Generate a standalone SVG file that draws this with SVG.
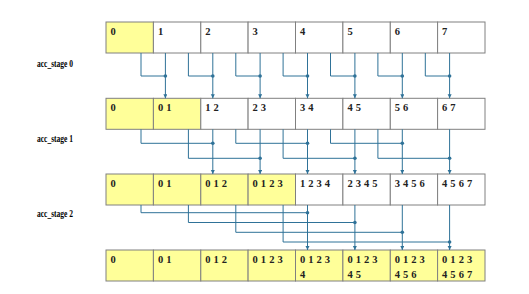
<svg xmlns="http://www.w3.org/2000/svg" width="529" height="294" viewBox="0 0 529 294">
<defs>
<style>
.c{fill:#ffffff;stroke:#808080;stroke-width:1}
.y{fill:#ffff99;stroke:#808080;stroke-width:1}
.t{font-family:"Liberation Serif",serif;font-weight:bold;font-size:10.5px;letter-spacing:0.2px;fill:#222}
.lb{font-family:"Liberation Serif",serif;font-weight:bold;font-size:9.5px;fill:#000}
.w{fill:none;stroke:#2f7298;stroke-width:1}
.d{fill:#2f7298}
</style>
<marker id="ah" markerUnits="userSpaceOnUse" markerWidth="5" markerHeight="5" refX="4" refY="2" orient="auto">
<path d="M0,0 L4,2 L0,4 z" fill="#2f7298"/>
</marker>
</defs>
<rect width="529" height="294" fill="#ffffff"/>

<g id="labels">
<text class="lb" x="37" y="67" textLength="36" lengthAdjust="spacingAndGlyphs">acc_stage 0</text>
<text class="lb" x="37" y="142" textLength="36" lengthAdjust="spacingAndGlyphs">acc_stage 1</text>
<text class="lb" x="37" y="217" textLength="36" lengthAdjust="spacingAndGlyphs">acc_stage 2</text>
</g>

<!-- Row 1 -->
<g id="r1c0"><rect class="y" x="106" y="22" width="47.4" height="31"/><text class="t" x="110.5" y="34.8">0</text></g>
<g id="r1c1"><rect class="c" x="153.4" y="22" width="47.4" height="31"/><text class="t" x="157.9" y="34.8">1</text></g>
<g id="r1c2"><rect class="c" x="200.8" y="22" width="47.3" height="31"/><text class="t" x="205.3" y="34.8">2</text></g>
<g id="r1c3"><rect class="c" x="248.1" y="22" width="47.4" height="31"/><text class="t" x="252.6" y="34.8">3</text></g>
<g id="r1c4"><rect class="c" x="295.5" y="22" width="47.4" height="31"/><text class="t" x="300" y="34.8">4</text></g>
<g id="r1c5"><rect class="c" x="342.9" y="22" width="47.4" height="31"/><text class="t" x="347.4" y="34.8">5</text></g>
<g id="r1c6"><rect class="c" x="390.3" y="22" width="47.3" height="31"/><text class="t" x="394.8" y="34.8">6</text></g>
<g id="r1c7"><rect class="c" x="437.6" y="22" width="47.4" height="31"/><text class="t" x="442.1" y="34.8">7</text></g>

<!-- Row 2 -->
<g id="r2c0"><rect class="y" x="106" y="98.3" width="47.4" height="31"/><text class="t" x="110.5" y="111">0</text></g>
<g id="r2c1"><rect class="y" x="153.4" y="98.3" width="47.4" height="31"/><text class="t" x="157.9" y="111">0 1</text></g>
<g id="r2c2"><rect class="c" x="200.8" y="98.3" width="47.3" height="31"/><text class="t" x="205.3" y="111">1 2</text></g>
<g id="r2c3"><rect class="c" x="248.1" y="98.3" width="47.4" height="31"/><text class="t" x="252.6" y="111">2 3</text></g>
<g id="r2c4"><rect class="c" x="295.5" y="98.3" width="47.4" height="31"/><text class="t" x="300" y="111">3 4</text></g>
<g id="r2c5"><rect class="c" x="342.9" y="98.3" width="47.4" height="31"/><text class="t" x="347.4" y="111">4 5</text></g>
<g id="r2c6"><rect class="c" x="390.3" y="98.3" width="47.3" height="31"/><text class="t" x="394.8" y="111">5 6</text></g>
<g id="r2c7"><rect class="c" x="437.6" y="98.3" width="47.4" height="31"/><text class="t" x="442.1" y="111">6 7</text></g>

<!-- Row 3 -->
<g id="r3c0"><rect class="y" x="106" y="174" width="47.4" height="31"/><text class="t" x="110.5" y="187">0</text></g>
<g id="r3c1"><rect class="y" x="153.4" y="174" width="47.4" height="31"/><text class="t" x="157.9" y="187">0 1</text></g>
<g id="r3c2"><rect class="y" x="200.8" y="174" width="47.3" height="31"/><text class="t" x="205.3" y="187">0 1 2</text></g>
<g id="r3c3"><rect class="y" x="248.1" y="174" width="47.4" height="31"/><text class="t" x="252.6" y="187">0 1 2 3</text></g>
<g id="r3c4"><rect class="c" x="295.5" y="174" width="47.4" height="31"/><text class="t" x="300" y="187">1 2 3 4</text></g>
<g id="r3c5"><rect class="c" x="342.9" y="174" width="47.4" height="31"/><text class="t" x="347.4" y="187">2 3 4 5</text></g>
<g id="r3c6"><rect class="c" x="390.3" y="174" width="47.3" height="31"/><text class="t" x="394.8" y="187">3 4 5 6</text></g>
<g id="r3c7"><rect class="c" x="437.6" y="174" width="47.4" height="31"/><text class="t" x="442.1" y="187">4 5 6 7</text></g>

<!-- Row 4 -->
<g id="r4c0"><rect class="y" x="106" y="250" width="47.4" height="31"/><text class="t" x="110.5" y="263.3">0</text></g>
<g id="r4c1"><rect class="y" x="153.4" y="250" width="47.4" height="31"/><text class="t" x="157.9" y="263.3">0 1</text></g>
<g id="r4c2"><rect class="y" x="200.8" y="250" width="47.3" height="31"/><text class="t" x="205.3" y="263.3">0 1 2</text></g>
<g id="r4c3"><rect class="y" x="248.1" y="250" width="47.4" height="31"/><text class="t" x="252.6" y="263.3">0 1 2 3</text></g>
<g id="r4c4"><rect class="y" x="295.5" y="250" width="47.4" height="31"/><text class="t" x="300" y="263.3">0 1 2 3</text><text class="t" x="300" y="277.5">4</text></g>
<g id="r4c5"><rect class="y" x="342.9" y="250" width="47.4" height="31"/><text class="t" x="347.4" y="263.3">0 1 2 3</text><text class="t" x="347.4" y="277.5">4 5</text></g>
<g id="r4c6"><rect class="y" x="390.3" y="250" width="47.3" height="31"/><text class="t" x="394.8" y="263.3">0 1 2 3</text><text class="t" x="394.8" y="277.5">4 5 6</text></g>
<g id="r4c7"><rect class="y" x="437.6" y="250" width="47.4" height="31"/><text class="t" x="442.1" y="263.3">0 1 2 3</text><text class="t" x="442.1" y="277.5">4 5 6 7</text></g>

<g id="connectors">
<!-- stage 0 -->
<path class="w" d="M141 53V76H165.4"/>
<path class="w" d="M188.4 53V76H212.8"/>
<path class="w" d="M235.8 53V76H260.1"/>
<path class="w" d="M283.1 53V76H307.5"/>
<path class="w" d="M330.5 53V76H354.9"/>
<path class="w" d="M377.9 53V76H402.3"/>
<path class="w" d="M425.3 53V76H449.6"/>
<path class="w" d="M165.4 53V98.3" marker-end="url(#ah)"/>
<path class="w" d="M212.8 53V98.3" marker-end="url(#ah)"/>
<path class="w" d="M260.1 53V98.3" marker-end="url(#ah)"/>
<path class="w" d="M307.5 53V98.3" marker-end="url(#ah)"/>
<path class="w" d="M354.9 53V98.3" marker-end="url(#ah)"/>
<path class="w" d="M402.3 53V98.3" marker-end="url(#ah)"/>
<path class="w" d="M449.6 53V98.3" marker-end="url(#ah)"/>
<circle class="d" cx="165.4" cy="76" r="1.8"/>
<circle class="d" cx="212.8" cy="76" r="1.8"/>
<circle class="d" cx="260.1" cy="76" r="1.8"/>
<circle class="d" cx="307.5" cy="76" r="1.8"/>
<circle class="d" cx="354.9" cy="76" r="1.8"/>
<circle class="d" cx="402.3" cy="76" r="1.8"/>
<circle class="d" cx="449.6" cy="76" r="1.8"/>
<!-- stage 1 -->
<path class="w" d="M141 129.3V143.3H212.8"/>
<path class="w" d="M188.4 129.3V158.3H260.1"/>
<path class="w" d="M235.8 129.3V143.3H307.5"/>
<path class="w" d="M283.1 129.3V158.3H354.9"/>
<path class="w" d="M330.5 129.3V143.3H402.3"/>
<path class="w" d="M377.9 129.3V158.3H449.6"/>
<path class="w" d="M212.8 129.3V174" marker-end="url(#ah)"/>
<path class="w" d="M260.1 129.3V174" marker-end="url(#ah)"/>
<path class="w" d="M307.5 129.3V174" marker-end="url(#ah)"/>
<path class="w" d="M354.9 129.3V174" marker-end="url(#ah)"/>
<path class="w" d="M402.3 129.3V174" marker-end="url(#ah)"/>
<path class="w" d="M449.6 129.3V174" marker-end="url(#ah)"/>
<circle class="d" cx="212.8" cy="143.3" r="1.8"/>
<circle class="d" cx="260.1" cy="158.3" r="1.8"/>
<circle class="d" cx="307.5" cy="143.3" r="1.8"/>
<circle class="d" cx="354.9" cy="158.3" r="1.8"/>
<circle class="d" cx="402.3" cy="143.3" r="1.8"/>
<circle class="d" cx="449.6" cy="158.3" r="1.8"/>
<!-- stage 2 -->
<path class="w" d="M141 205V212.7H307.5"/>
<path class="w" d="M188.4 205V222.5H354.9"/>
<path class="w" d="M235.8 205V232.3H402.3"/>
<path class="w" d="M283.1 205V242H449.6"/>
<path class="w" d="M307.5 205V250" marker-end="url(#ah)"/>
<path class="w" d="M354.9 205V250" marker-end="url(#ah)"/>
<path class="w" d="M402.3 205V250" marker-end="url(#ah)"/>
<path class="w" d="M449.6 205V250" marker-end="url(#ah)"/>
<circle class="d" cx="307.5" cy="212.7" r="1.8"/>
<circle class="d" cx="354.9" cy="222.5" r="1.8"/>
<circle class="d" cx="402.3" cy="232.3" r="1.8"/>
<circle class="d" cx="449.6" cy="242" r="1.8"/>
</g>
</svg>
